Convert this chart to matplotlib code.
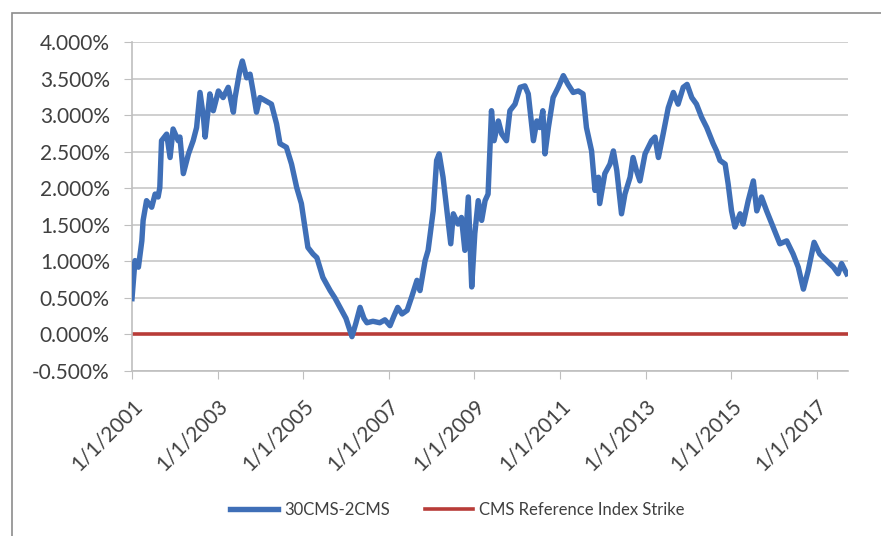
import datetime as dt
import matplotlib
matplotlib.use("Agg")
import matplotlib.pyplot as plt
import matplotlib.dates as mdates
from matplotlib.ticker import FuncFormatter, MultipleLocator
from matplotlib.patches import Rectangle

# decimal years
years = [2001.00, 2001.07, 2001.15, 2001.23, 2001.26, 2001.34, 2001.46, 2001.54, 2001.61, 2001.65,
         2001.69, 2001.81, 2001.89, 2001.96, 2002.08, 2002.12, 2002.20, 2002.32, 2002.43, 2002.51,
         2002.59, 2002.67, 2002.71, 2002.82, 2002.90, 2003.02, 2003.13, 2003.25, 2003.37, 2003.41,
         2003.52, 2003.58, 2003.68, 2003.76, 2003.83, 2003.91, 2003.99, 2004.11, 2004.26, 2004.38,
         2004.46, 2004.61, 2004.73, 2004.85, 2004.96, 2005.04, 2005.11, 2005.23, 2005.32, 2005.46,
         2005.63, 2005.74, 2005.86, 2006.00, 2006.14, 2006.23, 2006.33, 2006.42, 2006.49, 2006.63,
         2006.79, 2006.91, 2007.03, 2007.12, 2007.21, 2007.31, 2007.43, 2007.54, 2007.66, 2007.73,
         2007.85, 2007.92, 2008.04, 2008.12, 2008.18, 2008.27, 2008.35, 2008.45, 2008.51, 2008.62,
         2008.70, 2008.78, 2008.86, 2008.94, 2009.01, 2009.09, 2009.17, 2009.25, 2009.32, 2009.40,
         2009.46, 2009.56, 2009.64, 2009.75, 2009.83, 2009.95, 2010.07, 2010.18, 2010.26, 2010.38,
         2010.46, 2010.53, 2010.60, 2010.65, 2010.73, 2010.84, 2010.96, 2011.08, 2011.19, 2011.31,
         2011.43, 2011.54, 2011.62, 2011.74, 2011.82, 2011.90, 2011.93, 2012.05, 2012.17, 2012.25,
         2012.33, 2012.44, 2012.52, 2012.64, 2012.71, 2012.79, 2012.87, 2012.99, 2013.14, 2013.22,
         2013.30, 2013.41, 2013.53, 2013.65, 2013.76, 2013.88, 2013.97, 2014.08, 2014.19, 2014.31,
         2014.43, 2014.58, 2014.66, 2014.74, 2014.86, 2014.93, 2015.01, 2015.09, 2015.21, 2015.28,
         2015.40, 2015.52, 2015.60, 2015.71, 2015.83, 2015.98, 2016.14, 2016.30, 2016.45, 2016.57,
         2016.69, 2016.80, 2016.94, 2017.07, 2017.23, 2017.39, 2017.50, 2017.58, 2017.70]
spread = [0.49, 1.01, 0.92, 1.28, 1.56, 1.83, 1.74, 1.92, 1.88, 2.01,
          2.65, 2.74, 2.42, 2.81, 2.65, 2.70, 2.20, 2.47, 2.65, 2.83,
          3.31, 2.97, 2.70, 3.29, 3.06, 3.33, 3.24, 3.38, 3.04, 3.24,
          3.61, 3.74, 3.51, 3.56, 3.33, 3.04, 3.24, 3.20, 3.15, 2.88,
          2.61, 2.56, 2.33, 2.01, 1.79, 1.47, 1.19, 1.10, 1.05, 0.78,
          0.60, 0.50, 0.37, 0.22, -0.03, 0.15, 0.37, 0.22, 0.16, 0.18,
          0.16, 0.20, 0.12, 0.25, 0.37, 0.28, 0.33, 0.52, 0.74, 0.60,
          1.01, 1.15, 1.69, 2.38, 2.47, 2.15, 1.74, 1.24, 1.65, 1.51,
          1.60, 1.15, 1.88, 0.65, 1.38, 1.83, 1.56, 1.83, 1.92, 3.06,
          2.65, 2.92, 2.74, 2.65, 3.06, 3.15, 3.38, 3.40, 3.29, 2.65,
          2.92, 2.83, 3.06, 2.47, 2.83, 3.24, 3.38, 3.54, 3.42, 3.31,
          3.33, 3.29, 2.83, 2.51, 1.97, 2.15, 1.79, 2.20, 2.33, 2.51,
          2.24, 1.65, 1.92, 2.15, 2.42, 2.24, 2.10, 2.47, 2.65, 2.70,
          2.42, 2.74, 3.10, 3.31, 3.15, 3.38, 3.42, 3.24, 3.15, 2.97,
          2.83, 2.61, 2.51, 2.38, 2.33, 2.06, 1.69, 1.47, 1.65, 1.51,
          1.83, 2.10, 1.69, 1.88, 1.69, 1.47, 1.24, 1.28, 1.10, 0.92,
          0.62, 0.87, 1.26, 1.10, 1.01, 0.92, 0.83, 0.97, 0.83]
strike_years = [2001.00, 2017.70]
strike = [0.0, 0.0]
tick_years = [2001, 2003, 2005, 2007, 2009, 2011, 2013, 2015, 2017]


def to_date(y):
    base = dt.datetime(int(y), 1, 1)
    return base + dt.timedelta(days=(y - int(y)) * 365.25)


dates = [to_date(y) for y in years]
strike_dates = [to_date(y) for y in strike_years]

plt.rcParams['font.family'] = ['Lato', 'DejaVu Sans']
blue = '#3f6fb7'
red = '#b83c38'
txt = '#404040'

fig = plt.figure(figsize=(8.81, 5.36), dpi=100)
# outer chart border (open on the right and bottom, as in the picture)
fig.patches.append(Rectangle((12 / 881, -0.02), 0.99, 1 - 13 / 536 + 0.02,
                             transform=fig.transFigure, fill=False,
                             edgecolor='#8c8c8c', linewidth=1.2))
ax = fig.add_axes([132 / 881, 1 - 371 / 536, 716 / 881, 329 / 536])

ax.plot(dates, spread, color=blue, linewidth=3.9, label='30CMS-2CMS', zorder=3,
        solid_joinstyle='round')
ax.plot(strike_dates, strike, color=red, linewidth=2.6, label='CMS Reference Index Strike', zorder=2)

ax.set_ylim(-0.5, 4.0)
ax.set_xlim(to_date(2001.0), to_date(2017.73))
ax.yaxis.set_major_locator(MultipleLocator(0.5))
ax.yaxis.set_major_formatter(FuncFormatter(lambda v, p: f"{v:.3f}%"))
ax.set_xticks([dt.datetime(y, 1, 1) for y in tick_years])
ax.xaxis.set_major_formatter(FuncFormatter(
    lambda v, p: (lambda d: f"{d.month}/{d.day}/{d.year}")(mdates.num2date(v))))

ax.grid(axis='y', color='#cccccc', linewidth=1.3)
ax.set_axisbelow(True)
for s in ['top', 'right']:
    ax.spines[s].set_visible(False)
for s in ['left', 'bottom']:
    ax.spines[s].set_color('#bfbfbf')
    ax.spines[s].set_linewidth(1.2)
ax.tick_params(axis='y', length=6, color='#bfbfbf', labelsize=15, labelcolor=txt, pad=10)
ax.tick_params(axis='x', length=6, color='#bfbfbf', labelsize=15, labelcolor=txt, pad=12)
for lbl in ax.get_xticklabels():
    lbl.set_rotation(45)
    lbl.set_ha('right')
    lbl.set_rotation_mode('anchor')

leg = fig.legend(loc='center', bbox_to_anchor=(457 / 881, 1 - 510 / 536), ncol=2,
                 frameon=False, fontsize=12, handlelength=2.9, columnspacing=2.1,
                 handletextpad=0.35)
for t in leg.get_texts():
    t.set_color(txt)

fig.savefig('out.png', dpi=100)
